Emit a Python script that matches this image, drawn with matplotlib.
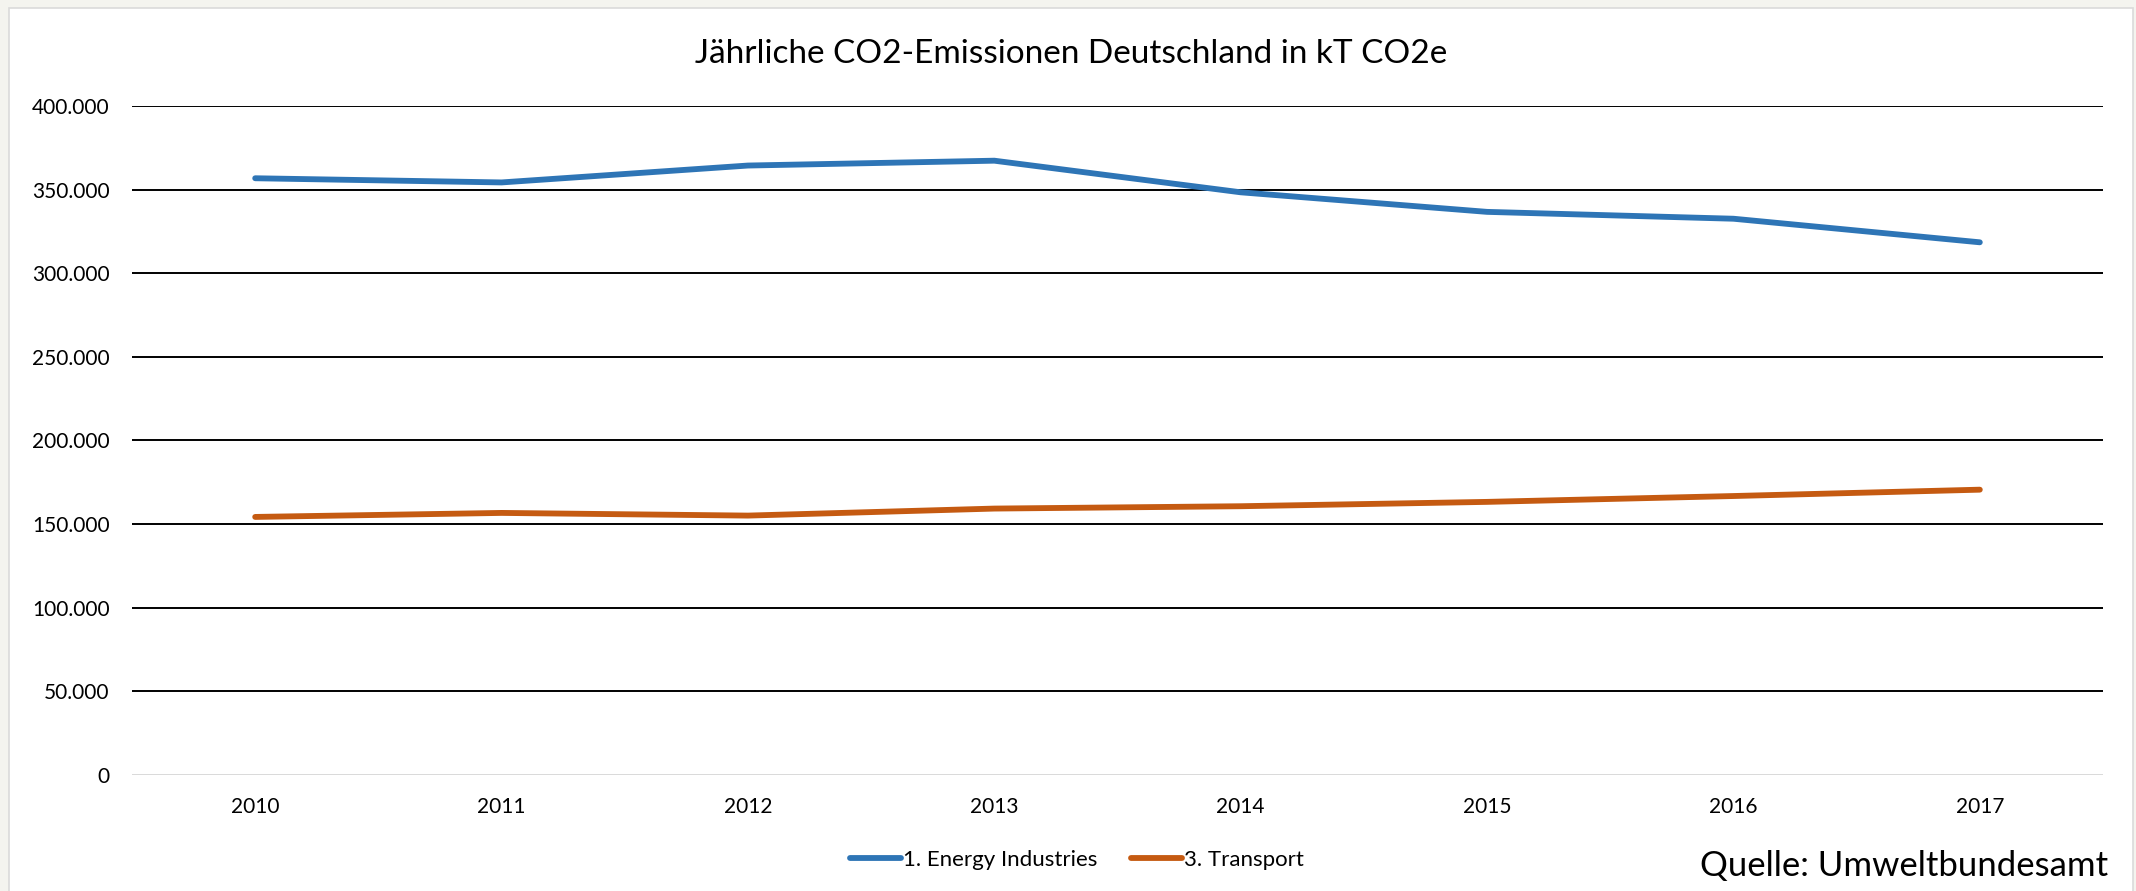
import matplotlib
matplotlib.use("Agg")
from matplotlib import pyplot as plt
from matplotlib import patches
from matplotlib.ticker import FuncFormatter

plt.rcParams['font.family'] = ['Lato', 'DejaVu Sans']

jahre = ['2010', '2011', '2012', '2013', '2014', '2015', '2016', '2017']
energy = [356800, 354300, 364400, 367300, 348400, 336700, 332600, 318500]
transport = [154300, 156700, 155100, 159300, 160700, 163300, 166800, 170600]

blau = '#2E75B6'
orange = '#C55A11'

W, H = 2136, 891
fig = plt.figure(figsize=(W / 100, H / 100), dpi=100)
fig.patch.set_facecolor('#f4f4ef')

# weisses Panel hinter allem
panel = patches.Rectangle((9 / W, -0.01), (2133 - 9) / W, 1 - 8 / H + 0.01,
                          transform=fig.transFigure, facecolor='white',
                          edgecolor='#dadada', linewidth=1.2, zorder=-5)
fig.patches.append(panel)

ax = fig.add_axes([132 / W, 1 - 775 / H, (2103 - 132) / W, (775 - 106) / H])
ax.set_facecolor('none')

x = list(range(len(jahre)))
ax.plot(x, energy, color=blau, lw=4.2, solid_capstyle='round', label='1. Energy Industries', zorder=3)
ax.plot(x, transport, color=orange, lw=4.2, solid_capstyle='round', label='3. Transport', zorder=3)

ax.set_xlim(-0.5, len(jahre) - 0.5)
ax.set_ylim(0, 400000)
ax.set_yticks(range(0, 400001, 50000))
ax.yaxis.set_major_formatter(FuncFormatter(lambda v, p: f'{int(v):,}'.replace(',', '.')))
ax.set_xticks(x)
ax.set_xticklabels(jahre)

for v in range(50000, 400001, 50000):
    ax.axhline(v, color='black', lw=1.4, zorder=1)
ax.axhline(0, color='#d9d9d9', lw=1.4, zorder=1)

for s in ax.spines.values():
    s.set_visible(False)
ax.tick_params(axis='both', length=0, labelsize=15, colors='black')
ax.tick_params(axis='y', pad=16)
ax.tick_params(axis='x', pad=16)

fig.text(1071 / W, 1 - 54 / H, 'Jährliche CO2-Emissionen Deutschland in kT CO2e',
         ha='center', va='center', fontsize=24)

fig.legend(loc='center', bbox_to_anchor=(1077 / W, 1 - 860 / H), ncol=2, frameon=False,
           fontsize=16, handlelength=2.3, handletextpad=0.1, columnspacing=1.5)

fig.text(2108 / W, 1 - 866 / H, 'Quelle: Umweltbundesamt', ha='right', va='center', fontsize=25)

fig.savefig('out.png', dpi=100, facecolor=fig.get_facecolor())
